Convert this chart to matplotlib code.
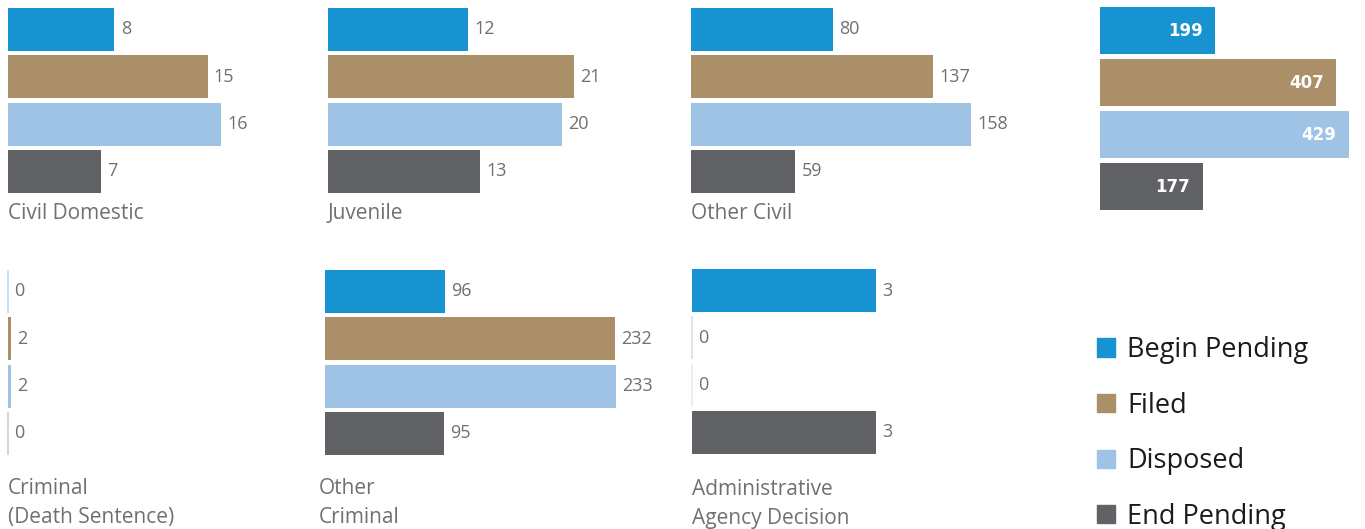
import matplotlib
matplotlib.use("Agg")
import matplotlib.pyplot as plt
from matplotlib.patches import Patch

plt.rcParams['font.family'] = ['Open Sans', 'DejaVu Sans']

# case types and counts per series
case_types = ["Civil Domestic", "Juvenile", "Other Civil",
              "Criminal\n(Death Sentence)", "Other\nCriminal",
              "Administrative\nAgency Decision"]
begin_pending = [8, 12, 80, 0, 96, 3]
filed = [15, 21, 137, 2, 232, 0]
disposed = [16, 20, 158, 2, 233, 0]
end_pending = [7, 13, 59, 0, 95, 3]
series_names = ["Begin Pending", "Filed", "Disposed", "End Pending"]

colors = ["#1793d1", "#ab8f69", "#9ec3e4", "#616265"]
label_gray = "#707070"

W, H = 1365, 529
fig = plt.figure(figsize=(W / 100, H / 100), dpi=100)


def px_axes(x, y, w, h):  # axes placed in pixel coords, y from the top
    return fig.add_axes([x / W, 1 - (y + h) / H, w / W, h / H])


# layout of the small panels (pixels)
panel_x = [8, 328, 691, 8, 325, 692]
panel_top = [8, 8, 8, 270, 270, 269]
px_per_unit = [13.3, 11.7, 1.77, 1.6, 1.25, 61.3]
title_x = [8, 328, 691, 8, 319, 692]
title_y = [203, 203, 203, 478, 478, 479]
pitch = 47.3

for i, name in enumerate(case_types):
    vals = [begin_pending[i], filed[i], disposed[i], end_pending[i]]
    ax = px_axes(panel_x[i], panel_top[i] - 2.15, 300, 4 * pitch)
    ax.set_xlim(0, 300 / px_per_unit[i])
    ax.set_ylim(3.5, -0.5)
    ax.axis('off')
    bars = ax.barh(range(4), vals, height=0.91, color=colors, linewidth=0)
    ax.bar_label(bars, padding=4.5, color=label_gray, fontsize=13)
    for j, v in enumerate(vals):
        if v == 0:  # empty bars show as a faint line
            ax.vlines(0, j - 0.455, j + 0.455, color=colors[j], alpha=0.3,
                      lw=1.2, clip_on=False)
    fig.text(title_x[i] / W, 1 - title_y[i] / H, name, ha='left', va='top',
             color=label_gray, fontsize=15, linespacing=1.5)

# totals panel
totals = [sum(begin_pending), sum(filed), sum(disposed), sum(end_pending)]
ax = px_axes(1100, 4.5, 265, 208)
ax.set_xlim(0, 265 / 0.58)
ax.set_ylim(3.5, -0.5)
ax.axis('off')
ax.barh(range(4), totals, height=0.904, color=colors, linewidth=0)
for j, v in enumerate(totals):
    ax.annotate(str(v), (v, j), xytext=(-9, 0), textcoords='offset points',
                ha='right', va='center', color='white', fontsize=12,
                fontweight='bold', family='DejaVu Sans')

handles = [Patch(color=c) for c in colors]
fig.legend(handles, series_names, loc='upper left',
           bbox_to_anchor=(1097 / W, 1 - 336 / H), frameon=False,
           fontsize=19.5, handlelength=0.66, handleheight=0.66,
           handletextpad=0.45, labelspacing=1.02, borderpad=0,
           borderaxespad=0, labelcolor='#1a1a1a')

fig.savefig("out.png", dpi=100)
